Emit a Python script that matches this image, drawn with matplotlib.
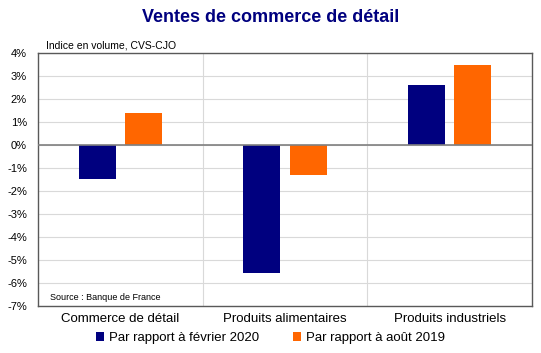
import numpy as np
import matplotlib
matplotlib.use("Agg")
import matplotlib.pyplot as plt

plt.rcParams['font.family'] = ['Liberation Sans', 'DejaVu Sans']

categories = ["Commerce de détail", "Produits alimentaires", "Produits industriels"]
vs_feb2020 = [-1.48, -5.55, 2.62]
vs_aug2019 = [1.38, -1.32, 3.50]
series_labels = ["Par rapport à février 2020", "Par rapport à août 2019"]
yticks = list(range(-7, 5))

navy = "#00007f"
orange = "#ff6600"

fig = plt.figure(figsize=(5.41, 3.53), dpi=100)
ax = fig.add_axes([38 / 541, 1 - 306 / 353, 494 / 541, 253 / 353])

x = np.arange(len(categories))
w = 0.225
off = 0.14
ax.bar(x - off, vs_feb2020, w, color=navy, label=series_labels[0], zorder=3)
ax.bar(x + off, vs_aug2019, w, color=orange, label=series_labels[1], zorder=3)

ax.set_xlim(-0.5, 2.5)
ax.set_ylim(-7, 4)
ax.set_yticks(yticks)
ax.set_yticklabels([f"{t}%" for t in yticks], fontsize=8)
ax.set_xticks([])
for t in yticks:
    ax.axhline(t, color="#d9d9d9", lw=0.8, zorder=1)
for s in [0.5, 1.5]:
    ax.axvline(s, color="#d9d9d9", lw=0.8, zorder=1)
ax.axhline(0, color="#808080", lw=1.2, zorder=4)
ax.tick_params(axis="y", length=0, pad=8)
for sp in ax.spines.values():
    sp.set_color("#595959")
    sp.set_linewidth(1)

for i, c in enumerate(categories):
    ax.text(i, -7.3, c, ha="center", va="top", fontsize=9.5)

ax.text(-0.45, 4.1, "Indice en volume, CVS-CJO", fontsize=7.5, va="bottom")
ax.text(-0.43, -6.65, "Source : Banque de France", fontsize=6.5, va="center")

fig.text(0.5, 1 - 17 / 353, "Ventes de commerce de détail", ha="center", va="center",
         fontsize=13, fontweight="bold", color=navy)

fig.legend(loc="center", bbox_to_anchor=(0.5, 1 - 338 / 353), ncol=2, frameon=False,
           fontsize=9.5, handlelength=0.6, handleheight=0.6, handletextpad=0.4,
           columnspacing=2.6)

fig.savefig("out.png", dpi=100)
